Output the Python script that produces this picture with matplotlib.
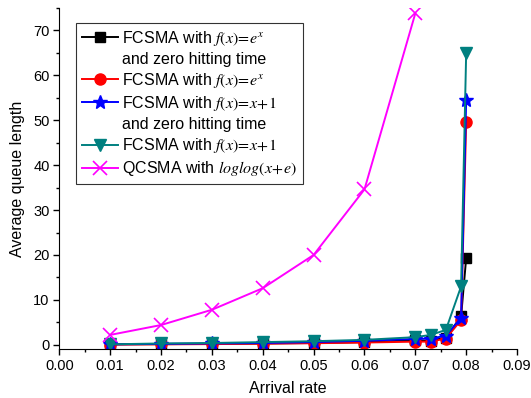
"""Average queue length vs arrival rate for FCSMA / QCSMA variants."""

import matplotlib

matplotlib.use("Agg")
import matplotlib.pyplot as plt
from matplotlib.lines import Line2D
from matplotlib.ticker import MultipleLocator

plt.rcParams["font.family"] = ["Liberation Sans", "DejaVu Sans"]
plt.rcParams["mathtext.fontset"] = "stix"

# arrival rates
X_FCSMA = [0.01, 0.02, 0.03, 0.04, 0.05, 0.06, 0.07, 0.073, 0.076, 0.079, 0.08]
X_QCSMA = [0.01, 0.02, 0.03, 0.04, 0.05, 0.06, 0.07]

# average queue length per scheme
Q_EXP_ZERO = [0.1, 0.15, 0.2, 0.3, 0.4, 0.6, 1.0, 0.9, 1.6, 6.3, 19.3]
Q_EXP = [0.05, 0.1, 0.15, 0.25, 0.35, 0.5, 0.7, 0.7, 1.4, 5.5, 49.5]
Q_LIN_ZERO = [0.1, 0.2, 0.3, 0.4, 0.6, 0.9, 1.3, 1.4, 2.0, 6.0, 54.5]
Q_LIN = [0.1, 0.3, 0.4, 0.6, 0.8, 1.1, 1.7, 2.2, 3.3, 13.0, 65.0]
Q_QCSMA = [2.2, 4.4, 7.8, 12.6, 20.0, 34.6, 73.8]

LABELS = [
    "FCSMA with $f(x)\\!=\\!e^{x}$",
    "FCSMA with $f(x)\\!=\\!e^{x}$",
    "FCSMA with $f(x)\\!=\\!x\\!+\\!1$",
    "FCSMA with $f(x)\\!=\\!x\\!+\\!1$",
    "QCSMA with $loglog(x\\!+\\!e)$",
]
SUBLINE = "and zero hitting time"


def main() -> None:
    fig = plt.figure(figsize=(5.31, 3.98), dpi=100)
    ax = fig.add_axes([0.1117, 0.1224, 0.862, 0.8576])

    h1, = ax.plot(X_FCSMA, Q_EXP_ZERO, color="black", marker="s", ms=7, lw=1.4)
    h2, = ax.plot(X_FCSMA, Q_EXP, color="red", marker="o", ms=8, lw=1.4)
    h3, = ax.plot(X_FCSMA, Q_LIN_ZERO, color="blue", marker="*", ms=10, lw=1.4)
    h4, = ax.plot(X_FCSMA, Q_LIN, color="#008080", marker="v", ms=9, lw=1.4)
    h5, = ax.plot(X_QCSMA, Q_QCSMA, color="#ff00ff", marker="x", ms=10, mew=1.2, lw=1.4)

    ax.set_xlim(0.0, 0.09)
    ax.set_ylim(-1, 75)
    ax.xaxis.set_major_locator(MultipleLocator(0.01))
    ax.xaxis.set_minor_locator(MultipleLocator(0.005))
    ax.yaxis.set_major_locator(MultipleLocator(10))
    ax.yaxis.set_minor_locator(MultipleLocator(5))
    ax.xaxis.set_major_formatter(lambda v, _: f"{v:.2f}")
    ax.tick_params(which="both", direction="out", labelsize=10.5, width=1.0, pad=3)
    ax.tick_params(which="major", length=4)
    ax.tick_params(which="minor", length=2.5)
    ax.spines["top"].set_visible(False)
    ax.spines["right"].set_visible(False)

    ax.set_xlabel("Arrival rate", fontsize=11.5, labelpad=6)
    ax.set_ylabel("Average queue length", fontsize=11.5, labelpad=6)

    # the two-line entries keep their marker on the first line, as in the source
    blank = Line2D([], [], linestyle="none")
    handles = [h1, blank, h2, h3, blank, h4, h5]
    labels = [LABELS[0], SUBLINE, LABELS[1], LABELS[2], SUBLINE, LABELS[3], LABELS[4]]
    leg = ax.legend(
        handles,
        labels,
        loc="upper left",
        bbox_to_anchor=(0.0365, 0.956),
        fontsize=11.5,
        frameon=True,
        fancybox=False,
        edgecolor="black",
        handlelength=2.3,
        handletextpad=0.25,
        labelspacing=0.26,
        borderpad=0.35,
        borderaxespad=0.0,
    )
    leg.get_frame().set_linewidth(0.8)

    fig.savefig("out.png", dpi=100)
    plt.close(fig)


if __name__ == "__main__":
    main()
